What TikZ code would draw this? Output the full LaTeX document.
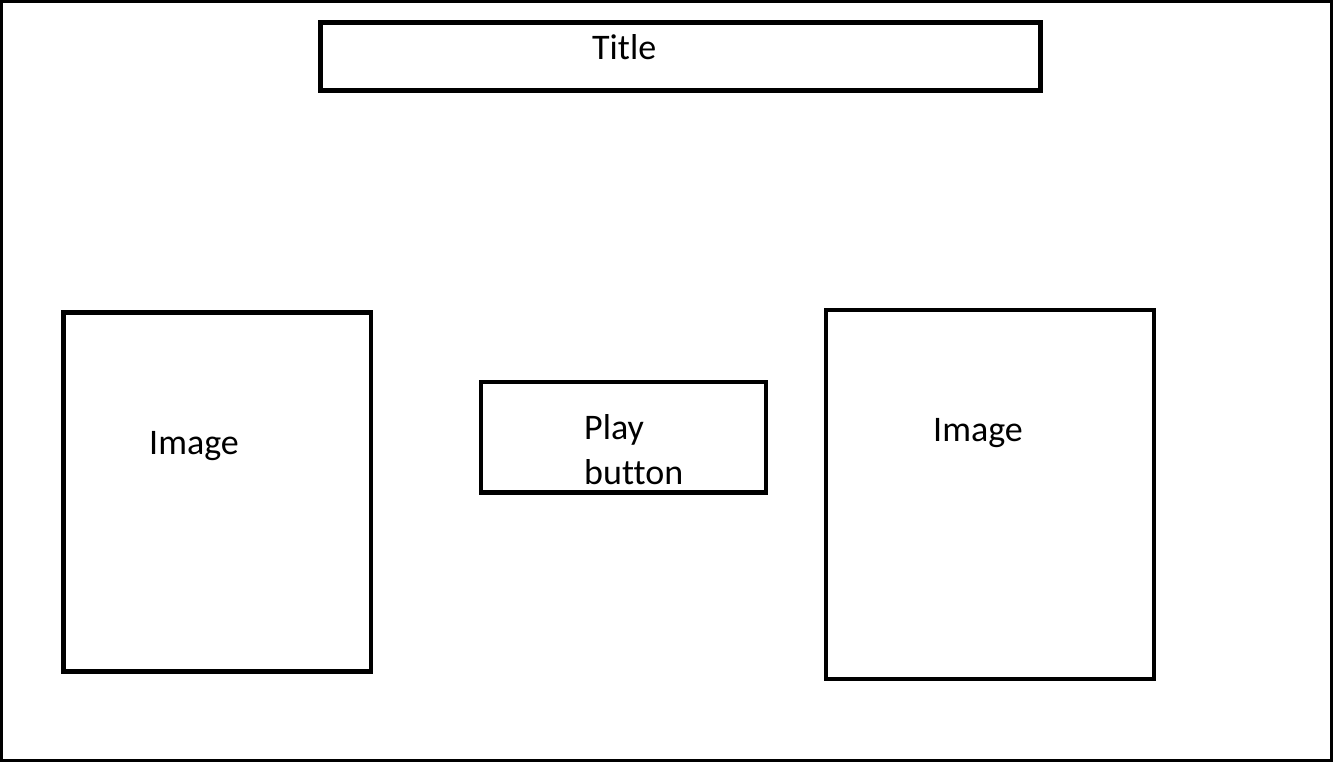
\documentclass[tikz,border=0pt]{standalone}
\usepackage{fontspec}
\setmainfont[Ligatures=NoCommon]{Carlito}
\tikzset{
  frame/.style={draw=black, line width=3pt},
  box/.style={draw=black, line width=4.5pt},
  lbl/.style={anchor=base west, inner sep=0pt, font=\fontsize{36}{45}\selectfont, align=left}
}
\begin{document}
\begin{tikzpicture}[x=1pt,y=-1pt]
\useasboundingbox (0,0) rectangle (1333,762);
\draw[frame] (1.5,1.5) rectangle (1331.5,760.5);
\draw[box] (320.5,22.5) rectangle (1040.5,90.5);
\draw[box] (63.5,312.5) rectangle (371,671.5);
\draw[box] (481,382) rectangle (766,492.5);
\draw[box] (826,310) rectangle (1154,679);
\node[lbl] (title) at (592,60) {Title};
\node[lbl] (img1) at (149,454) {Image};
\node[lbl] (img2) at (933,441) {Image};
\node[lbl] (play) at (584,439) {Play};
\node[lbl] (btn) at (584,484.5) {button};
\end{tikzpicture}
\end{document}
